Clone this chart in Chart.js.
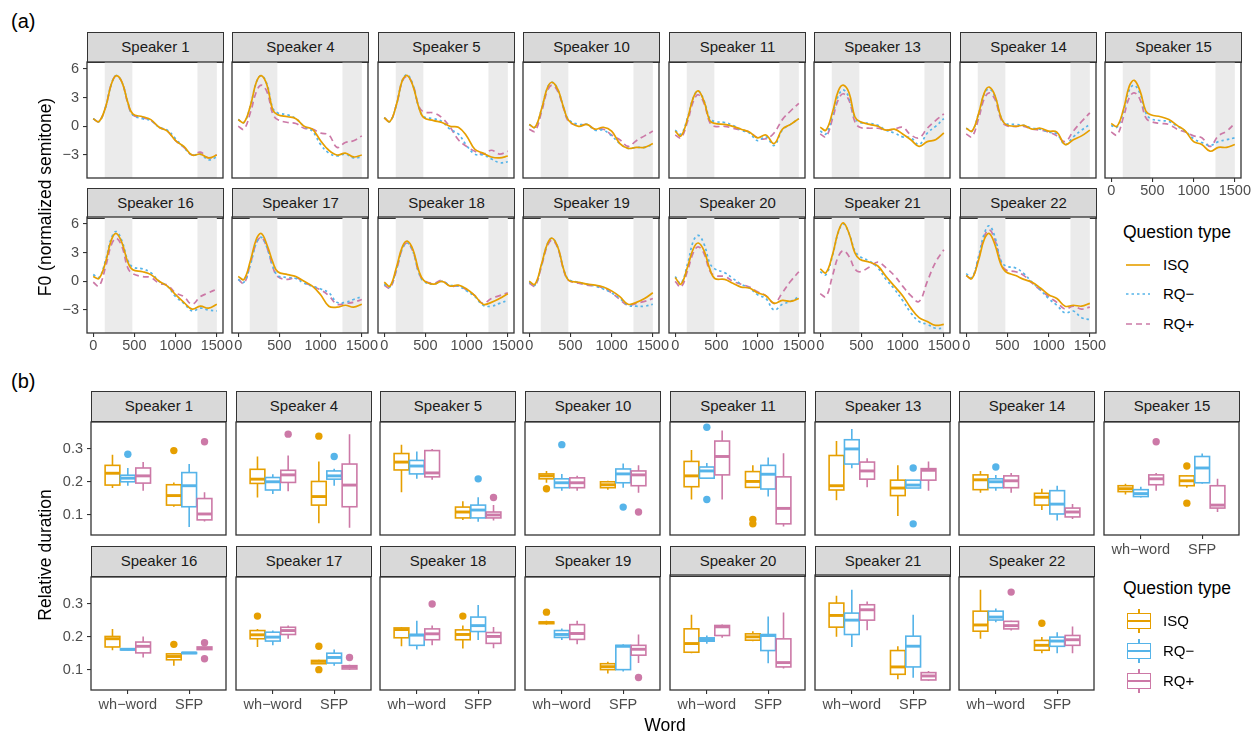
<!DOCTYPE html>
<html>
<head>
<meta charset="utf-8">
<script src="https://cdn.jsdelivr.net/npm/chart.js@4.4.1/dist/chart.umd.min.js"></script>
<style>
  body { margin: 0; background: #fff; font-family: "Liberation Sans", Arial, sans-serif; }
  #fig { position: relative; width: 1252px; height: 734px; overflow: hidden; background: #fff; }
  .strip { position: absolute; background: #D9D9D9; border: 1.3px solid #333; box-sizing: border-box;
           text-align: center; color: #1A1A1A; font-size: 15px; }
  .txt { position: absolute; white-space: nowrap; color: #000; }
  canvas { position: absolute; }
</style>
</head>
<body>
<div id="fig"></div>
<script>
const speakers = ['Speaker 1', 'Speaker 4', 'Speaker 5', 'Speaker 10', 'Speaker 11', 'Speaker 13', 'Speaker 14', 'Speaker 15',
  'Speaker 16', 'Speaker 17', 'Speaker 18', 'Speaker 19', 'Speaker 20', 'Speaker 21', 'Speaker 22'];
const qTypes = ['ISQ', 'RQ−', 'RQ+'];
const qColors = ['#E69F00', '#56B4E9', '#CC79A7'];
const words = ['wh−word', 'SFP'];

// (a) F0 contours, ms
const timePoints = [0, 70, 150, 220, 280, 350, 420, 480, 600, 700, 800, 900, 1000, 1100, 1200, 1300, 1400, 1500];
const shadeRanges = [[140, 475], [1265, 1500]];
const f0Ticks = [-3, 0, 3, 6];
const timeTicks = [0, 500, 1000, 1500];

const f0ISQ = [
  [0.8, 0.5, 2.0, 4.4, 5.3, 4.6, 2.5, 1.3, 1.0, 0.7, -0.1, -0.5, -1.5, -2.1, -3.0, -2.9, -3.3, -3.0],
  [0.7, 0.4, 2.2, 4.6, 5.3, 4.3, 1.7, 1.2, 1.0, 0.8, 0.0, -0.3, -1.5, -2.5, -3.0, -2.8, -3.2, -3.0],
  [0.9, 0.5, 2.3, 4.8, 5.3, 4.2, 2.0, 0.9, 0.6, 0.4, 0.0, -0.1, -1.0, -2.4, -2.8, -3.2, -3.3, -3.1],
  [0.2, -0.1, 1.8, 4.0, 4.6, 3.8, 1.9, 0.6, 0.0, 0.2, -0.3, -0.1, -0.5, -1.8, -2.3, -2.2, -2.2, -1.8],
  [-0.5, -1.0, 0.8, 3.0, 3.7, 2.6, 0.6, 0.3, 0.2, 0.0, -0.3, -0.6, -1.2, -0.9, -1.8, -0.3, 0.2, 0.8],
  [-0.1, -0.4, 1.5, 3.7, 4.3, 3.5, 1.0, 0.5, 0.2, 0.0, -0.4, -0.3, -0.8, -1.4, -2.1, -1.6, -1.4, -0.7],
  [-0.2, -0.5, 1.3, 3.5, 4.1, 3.2, 1.0, 0.2, 0.0, 0.1, -0.3, -0.2, -0.5, -0.6, -1.9, -1.4, -1.0, -0.4],
  [0.3, 0.0, 1.8, 4.2, 4.8, 3.7, 1.6, 1.2, 1.0, 0.7, 0.1, -0.5, -1.6, -1.9, -2.6, -2.2, -2.2, -1.9],
  [0.5, 0.3, 2.0, 4.3, 5.0, 4.0, 2.0, 1.2, 1.0, 0.7, 0.0, -0.5, -1.4, -2.2, -2.9, -2.6, -2.8, -2.4],
  [0.5, 0.2, 2.2, 4.4, 5.0, 3.8, 2.0, 1.0, 0.7, 0.5, 0.0, -0.5, -1.4, -2.6, -2.7, -2.5, -2.7, -2.4],
  [-0.1, -0.5, 1.5, 3.6, 4.2, 3.3, 1.1, 0.1, -0.3, 0.0, -0.5, -0.4, -0.8, -1.5, -2.4, -2.2, -1.8, -1.3],
  [0.0, -0.3, 1.8, 3.9, 4.5, 3.5, 1.2, 0.1, -0.1, -0.3, -0.4, -0.6, -1.0, -1.6, -2.4, -2.2, -1.8, -1.2],
  [0.4, -0.3, 1.5, 3.4, 4.0, 3.2, 1.3, 0.3, 0.2, -0.2, -0.6, -0.7, -1.2, -1.5, -2.3, -2.0, -2.1, -1.8],
  [1.3, 0.9, 2.8, 5.2, 6.1, 5.0, 3.0, 2.3, 2.0, 1.6, 0.5, -0.5, -1.5, -2.8, -3.8, -4.2, -4.6, -4.5],
  [0.6, 0.3, 2.2, 4.4, 5.0, 3.8, 1.8, 1.0, 0.6, 0.2, -0.1, -0.7, -1.4, -1.8, -2.6, -2.5, -2.6, -2.3]
];
const f0RQm = [
  [0.8, 0.5, 2.0, 4.4, 5.3, 4.6, 2.5, 1.2, 0.8, 0.6, -0.1, -0.4, -1.3, -2.2, -3.0, -2.9, -3.5, -3.2],
  [0.7, 0.4, 2.2, 4.6, 5.3, 4.4, 1.9, 1.4, 1.2, 0.8, 0.0, -0.5, -1.9, -2.8, -3.1, -2.9, -3.3, -3.2],
  [0.9, 0.5, 2.3, 4.8, 5.4, 4.3, 2.0, 1.0, 0.8, 0.5, -0.3, -0.8, -2.0, -2.9, -3.0, -3.4, -3.8, -3.7],
  [0.2, -0.1, 1.8, 4.0, 4.6, 3.8, 1.9, 0.7, 0.2, 0.2, -0.4, -0.4, -1.0, -1.8, -2.3, -2.2, -2.2, -1.9],
  [-0.4, -0.8, 0.9, 3.0, 3.7, 2.7, 0.8, 0.5, 0.4, 0.1, -0.4, -0.7, -1.5, -1.1, -2.0, -0.4, 0.2, 0.8],
  [-0.5, -0.8, 1.2, 3.2, 3.8, 3.0, 0.9, 0.4, 0.3, 0.1, -0.4, -0.7, -1.1, -1.2, -1.9, -0.7, 0.0, 0.8],
  [-0.2, -0.5, 1.3, 3.4, 3.9, 3.1, 1.0, 0.3, 0.2, 0.1, -0.2, -0.3, -0.6, -0.8, -1.9, -1.1, -0.4, 0.2],
  [0.1, -0.1, 1.6, 3.8, 4.3, 3.4, 1.4, 0.8, 0.6, 0.5, 0.0, -0.5, -1.3, -1.7, -2.0, -1.6, -1.4, -1.2],
  [0.7, 0.4, 2.2, 4.5, 5.2, 4.2, 2.2, 1.5, 1.3, 0.9, 0.0, -0.5, -1.6, -2.3, -3.1, -2.8, -3.0, -3.1],
  [0.2, -0.1, 1.8, 4.0, 4.6, 3.5, 1.6, 0.6, 0.4, 0.3, -0.2, -0.5, -0.8, -1.2, -2.2, -2.2, -1.9, -1.6],
  [-0.3, -0.6, 1.3, 3.4, 4.0, 3.1, 0.9, 0.0, -0.3, 0.0, -0.4, -0.5, -1.0, -1.6, -2.5, -2.6, -2.3, -2.0],
  [-0.1, -0.4, 1.7, 3.9, 4.5, 3.5, 1.2, 0.2, -0.1, -0.3, -0.5, -0.8, -1.2, -1.8, -2.5, -2.6, -2.6, -2.4],
  [0.5, -0.2, 1.8, 4.2, 4.8, 3.9, 1.9, 1.3, 0.9, 0.3, -0.3, -0.7, -1.4, -1.8, -3.0, -2.4, -2.1, -1.6],
  [1.0, 0.7, 2.7, 5.1, 6.0, 5.0, 3.2, 2.6, 2.1, 1.4, 0.2, -0.8, -2.0, -3.3, -4.2, -4.5, -4.9, -4.9],
  [0.8, 0.4, 2.6, 5.0, 5.8, 4.6, 2.2, 1.6, 1.4, 0.8, -0.1, -0.9, -1.8, -2.5, -3.3, -3.1, -3.8, -4.0]
];
const f0RQp = [
  [0.8, 0.5, 2.0, 4.4, 5.3, 4.6, 2.4, 1.2, 0.9, 0.6, -0.1, -0.5, -1.5, -2.2, -3.0, -2.7, -3.3, -3.0],
  [0.0, -0.3, 1.5, 3.6, 4.3, 3.6, 1.3, 0.7, 0.4, 0.3, -0.2, -0.3, -0.7, -0.9, -2.2, -1.7, -1.5, -1.0],
  [0.9, 0.5, 2.3, 4.7, 5.2, 4.3, 2.1, 1.5, 1.4, 0.9, -0.1, -1.4, -2.1, -2.6, -2.9, -2.5, -2.9, -2.6],
  [-0.3, -0.5, 1.5, 3.7, 4.3, 3.6, 1.8, 0.5, 0.1, 0.2, -0.3, -0.3, -0.9, -1.4, -2.1, -1.5, -1.0, -0.5],
  [-0.9, -1.2, 0.5, 2.6, 3.3, 2.4, 0.4, 0.0, 0.0, -0.2, -0.4, -0.6, -1.2, -1.3, -0.7, 0.7, 1.6, 2.4],
  [-0.8, -1.1, 0.8, 2.8, 3.4, 2.7, 0.5, -0.1, -0.2, -0.2, -0.4, -0.3, -0.1, -0.9, -1.2, -0.2, 0.6, 1.3],
  [-0.8, -1.1, 0.8, 2.9, 3.5, 2.8, 0.8, 0.1, 0.0, 0.0, -0.3, -0.4, -0.6, -1.0, -1.6, -0.5, 0.5, 1.4],
  [-0.6, -0.9, 1.0, 3.0, 3.5, 2.8, 0.9, 0.5, 0.3, 0.2, -0.3, -0.6, -1.0, -1.2, -2.1, -1.0, -0.5, 0.3],
  [-0.1, -0.5, 1.5, 3.8, 4.5, 3.6, 1.4, 0.8, 0.5, 0.4, -0.2, -0.4, -1.2, -1.6, -2.4, -1.6, -1.2, -0.8],
  [0.2, -0.2, 1.9, 4.0, 4.6, 3.5, 1.5, 0.5, 0.2, 0.4, -0.1, -0.5, -0.9, -1.5, -2.4, -2.3, -2.2, -1.9],
  [-0.4, -0.7, 1.2, 3.4, 4.0, 3.1, 0.9, 0.1, -0.2, 0.1, -0.5, -0.5, -0.9, -1.5, -2.3, -1.8, -1.5, -1.2],
  [-0.2, -0.5, 1.6, 3.7, 4.3, 3.4, 1.1, 0.1, -0.2, -0.4, -0.5, -0.7, -1.2, -1.9, -2.5, -2.3, -2.1, -1.8],
  [0.0, -0.6, 1.1, 3.0, 3.6, 2.9, 1.1, 0.6, 0.5, 0.0, -0.3, -0.6, -1.1, -1.5, -2.3, -1.2, 0.0, 1.0],
  [-1.3, -1.6, 0.6, 2.6, 3.2, 2.6, 1.3, 1.0, 1.5, 2.0, 1.4, 0.6, -0.5, -1.5, -2.1, 0.0, 2.0, 3.3],
  [0.6, 0.3, 2.4, 4.7, 5.4, 4.3, 2.0, 1.2, 1.0, 0.6, -0.2, -0.9, -1.6, -2.2, -2.9, -2.6, -2.9, -2.7]
];

// (b) relative duration boxplots: [lower whisker, q1, median, q3, upper whisker]
const durTicks = [0.1, 0.2, 0.3];
const whISQ = [
  [0.181, 0.19, 0.226, 0.25, 0.282], [0.152, 0.195, 0.208, 0.238, 0.277], [0.168, 0.236, 0.26, 0.286, 0.313],
  [0.197, 0.209, 0.218, 0.224, 0.233], [0.146, 0.185, 0.218, 0.262, 0.297], [0.144, 0.175, 0.188, 0.28, 0.324],
  [0.167, 0.176, 0.206, 0.221, 0.233], [0.161, 0.17, 0.179, 0.188, 0.194], [0.159, 0.169, 0.194, 0.201, 0.224],
  [0.169, 0.194, 0.206, 0.219, 0.224], [0.171, 0.197, 0.222, 0.227, 0.23], [0.237, 0.24, 0.243, 0.245, 0.249],
  [0.148, 0.151, 0.177, 0.221, 0.263], [0.197, 0.226, 0.261, 0.298, 0.32], [0.194, 0.217, 0.236, 0.278, 0.343]
];
const whRQm = [
  [0.188, 0.2, 0.211, 0.22, 0.242], [0.163, 0.175, 0.2, 0.213, 0.223], [0.209, 0.224, 0.248, 0.265, 0.292],
  [0.173, 0.182, 0.197, 0.209, 0.224], [0.21, 0.211, 0.233, 0.245, 0.257], [0.241, 0.254, 0.3, 0.328, 0.361],
  [0.173, 0.182, 0.2, 0.209, 0.221], [0.152, 0.155, 0.164, 0.176, 0.185], [0.159, 0.16, 0.162, 0.163, 0.164],
  [0.174, 0.187, 0.199, 0.214, 0.219], [0.161, 0.174, 0.205, 0.207, 0.249], [0.19, 0.198, 0.207, 0.219, 0.225],
  [0.176, 0.184, 0.189, 0.194, 0.201], [0.167, 0.204, 0.247, 0.268, 0.338], [0.244, 0.251, 0.26, 0.278, 0.286]
];
const whRQp = [
  [0.173, 0.196, 0.218, 0.242, 0.26], [0.171, 0.198, 0.221, 0.235, 0.28], [0.206, 0.215, 0.227, 0.295, 0.3],
  [0.173, 0.182, 0.197, 0.212, 0.218], [0.146, 0.221, 0.277, 0.324, 0.356], [0.183, 0.208, 0.233, 0.26, 0.272],
  [0.167, 0.182, 0.203, 0.218, 0.227], [0.173, 0.191, 0.209, 0.221, 0.227], [0.137, 0.151, 0.171, 0.184, 0.201],
  [0.194, 0.207, 0.219, 0.229, 0.234], [0.174, 0.191, 0.209, 0.224, 0.234], [0.177, 0.192, 0.21, 0.237, 0.249],
  [0.194, 0.201, 0.227, 0.231, 0.234], [0.217, 0.247, 0.278, 0.293, 0.303], [0.219, 0.224, 0.234, 0.247, 0.249]
];
const sfpISQ = [
  [0.124, 0.129, 0.158, 0.191, 0.198], [0.074, 0.129, 0.155, 0.201, 0.262], [0.084, 0.09, 0.108, 0.123, 0.141],
  [0.176, 0.182, 0.191, 0.2, 0.203], [0.182, 0.183, 0.201, 0.231, 0.25], [0.096, 0.158, 0.181, 0.205, 0.25],
  [0.114, 0.129, 0.153, 0.165, 0.179], [0.182, 0.188, 0.203, 0.218, 0.221], [0.112, 0.13, 0.14, 0.148, 0.15],
  [0.118, 0.118, 0.125, 0.128, 0.13], [0.164, 0.191, 0.207, 0.221, 0.234], [0.088, 0.1, 0.109, 0.118, 0.124],
  [0.184, 0.187, 0.197, 0.206, 0.214], [0.07, 0.085, 0.107, 0.156, 0.169], [0.15, 0.159, 0.174, 0.189, 0.199]
];
const sfpRQm = [
  [0.062, 0.124, 0.188, 0.228, 0.254], [0.188, 0.208, 0.218, 0.233, 0.24], [0.078, 0.09, 0.114, 0.129, 0.153],
  [0.182, 0.197, 0.224, 0.239, 0.256], [0.155, 0.178, 0.223, 0.25, 0.274], [0.181, 0.181, 0.19, 0.205, 0.205],
  [0.082, 0.102, 0.132, 0.173, 0.188], [0.194, 0.197, 0.242, 0.277, 0.286], [0.148, 0.149, 0.151, 0.152, 0.153],
  [0.112, 0.12, 0.137, 0.15, 0.161], [0.19, 0.216, 0.234, 0.26, 0.297], [0.094, 0.1, 0.171, 0.174, 0.177],
  [0.118, 0.156, 0.201, 0.204, 0.258], [0.075, 0.107, 0.169, 0.199, 0.263], [0.15, 0.171, 0.187, 0.199, 0.214]
];
const sfpRQp = [
  [0.079, 0.084, 0.102, 0.149, 0.168], [0.06, 0.124, 0.19, 0.254, 0.345], [0.082, 0.09, 0.099, 0.108, 0.129],
  [0.167, 0.188, 0.221, 0.233, 0.25], [0.064, 0.072, 0.119, 0.215, 0.287], [0.173, 0.205, 0.235, 0.24, 0.262],
  [0.087, 0.093, 0.108, 0.12, 0.132], [0.108, 0.12, 0.129, 0.188, 0.209], [0.16, 0.161, 0.165, 0.169, 0.17],
  [0.1, 0.102, 0.108, 0.112, 0.115], [0.165, 0.18, 0.201, 0.213, 0.23], [0.12, 0.144, 0.162, 0.174, 0.207],
  [0.102, 0.107, 0.12, 0.191, 0.27], [0.066, 0.068, 0.08, 0.09, 0.095], [0.15, 0.174, 0.191, 0.204, 0.231]
];
// [speaker index, word index, question type index, value]
const durOutliers = [
  [0, 0, 1, 0.284], [0, 1, 0, 0.295], [0, 1, 2, 0.322],
  [1, 0, 2, 0.345], [1, 1, 0, 0.339], [1, 1, 1, 0.277],
  [2, 1, 1, 0.209], [2, 1, 2, 0.152],
  [3, 0, 0, 0.179], [3, 0, 1, 0.313], [3, 1, 1, 0.123], [3, 1, 2, 0.108],
  [4, 0, 1, 0.366], [4, 0, 1, 0.146], [4, 1, 0, 0.085], [4, 1, 0, 0.072],
  [5, 1, 1, 0.242], [5, 1, 1, 0.072],
  [6, 0, 1, 0.245],
  [7, 0, 2, 0.322], [7, 1, 0, 0.248], [7, 1, 0, 0.135],
  [8, 1, 0, 0.177], [8, 1, 2, 0.182], [8, 1, 2, 0.133],
  [9, 0, 0, 0.263], [9, 1, 0, 0.171], [9, 1, 0, 0.1], [9, 1, 2, 0.137],
  [10, 0, 2, 0.3], [10, 1, 0, 0.263],
  [11, 0, 0, 0.275], [11, 1, 2, 0.076],
  [14, 0, 2, 0.336], [14, 1, 0, 0.241]
];

const f0Series = [f0ISQ, f0RQm, f0RQp];
const whSeries = [whISQ, whRQm, whRQp];
const sfpSeries = [sfpISQ, sfpRQm, sfpRQp];
const dashes = [[], [2.5, 3], [6, 4]];
const dodge = [-0.25, 0, 0.25];
const BOX_W = 0.24;

const fig = document.getElementById('fig');
const ML = 34, MR = 18, MT = 2, MB = 26;

function addText(text, css) {
  const d = document.createElement('div');
  d.className = 'txt';
  d.textContent = text;
  Object.assign(d.style, css);
  fig.appendChild(d);
  return d;
}

function addStrip(text, left, top, w) {
  const d = document.createElement('div');
  d.className = 'strip';
  d.textContent = text;
  Object.assign(d.style, { left: left + 'px', top: top + 'px', width: (w + 1) + 'px', height: '31px', lineHeight: '28px' });
  fig.appendChild(d);
}

const shadePlugin = {
  id: 'shade',
  beforeDatasetsDraw(chart) {
    const { ctx, chartArea: a, scales: { x } } = chart;
    ctx.save();
    ctx.fillStyle = '#EBEBEB';
    shadeRanges.forEach(([s, e]) => {
      const x0 = x.getPixelForValue(s), x1 = x.getPixelForValue(e);
      ctx.fillRect(x0, a.top, x1 - x0, a.bottom - a.top);
    });
    ctx.restore();
  }
};

const borderPlugin = {
  id: 'panelBorder',
  afterDraw(chart) {
    const { ctx, chartArea: a } = chart;
    ctx.save();
    ctx.strokeStyle = '#333';
    ctx.lineWidth = 1.3;
    ctx.strokeRect(a.left, a.top, a.right - a.left, a.bottom - a.top);
    ctx.restore();
  }
};

const boxPlugin = {
  id: 'boxes',
  beforeDatasetsDraw(chart) {
    const { ctx, scales: { x, y } } = chart;
    ctx.save();
    chart.data.datasets.forEach(ds => {
      if (!ds.isBox) return;
      ds.data.forEach(p => {
        const [lo, q1, med, q3, hi] = p.stats;
        const xc = x.getPixelForValue(p.x);
        const xl = x.getPixelForValue(p.x - BOX_W / 2), xr = x.getPixelForValue(p.x + BOX_W / 2);
        const yt = y.getPixelForValue(q3), yb = y.getPixelForValue(q1);
        ctx.strokeStyle = ds.borderColor;
        ctx.lineWidth = 1.6;
        ctx.beginPath();
        ctx.moveTo(xc, y.getPixelForValue(hi)); ctx.lineTo(xc, yt);
        ctx.moveTo(xc, yb); ctx.lineTo(xc, y.getPixelForValue(lo));
        ctx.stroke();
        ctx.fillStyle = '#fff';
        ctx.fillRect(xl, yt, xr - xl, yb - yt);
        ctx.strokeRect(xl, yt, xr - xl, yb - yt);
        ctx.lineWidth = 2.9;
        ctx.beginPath();
        const ym = y.getPixelForValue(med);
        ctx.moveTo(xl, ym); ctx.lineTo(xr, ym);
        ctx.stroke();
      });
    });
    ctx.restore();
  }
};

function scaleOpts(show, isX, pad, extra) {
  return Object.assign({
    type: 'linear',
    display: show,
    border: { display: false },
    grid: { drawOnChartArea: false, color: '#333', lineWidth: 1.1, tickLength: 4 },
    ticks: { color: '#4D4D4D', font: { size: 14.5, family: '"Liberation Sans", Arial, sans-serif', lineHeight: 1 },
             padding: pad, autoSkip: false, maxRotation: 0 },
    afterFit(s) {
      if (!s.options.display) return;
      if (isX) { s.height = MB; s.paddingLeft = 0; s.paddingRight = 0; }
      else { s.width = ML; s.paddingTop = 0; s.paddingBottom = 0; }
    }
  }, extra);
}

function makeCanvas(left, top, w, h) {
  const cv = document.createElement('canvas');
  cv.width = w + ML + MR;
  cv.height = h + MT + MB;
  cv.style.left = (left - ML) + 'px';
  cv.style.top = (top - MT) + 'px';
  fig.appendChild(cv);
  return cv;
}

function baseOptions(showX, showY) {
  return {
    responsive: false, animation: false, events: [], devicePixelRatio: 1,
    layout: { padding: { left: showY ? 0 : ML, right: MR, top: MT, bottom: showX ? 0 : MB } },
    plugins: { legend: { display: false }, tooltip: { enabled: false } }
  };
}

// ----- (a) -----
const A = { left0: 87, pitch: 145.45, w: 136, stripTops: [32, 188], tops: [62, 217], h: 116 };
speakers.forEach((name, i) => {
  const row = i < 8 ? 0 : 1, k = i < 8 ? i : i - 8;
  const left = Math.round(A.left0 + k * A.pitch), top = A.tops[row];
  addStrip(name, left, A.stripTops[row], A.w);
  const showY = k === 0, showX = row === 1 || k === 7;
  const opts = baseOptions(showX, showY);
  opts.scales = {
    x: scaleOpts(showX, true, 2, {
      min: -75, max: 1575,
      afterBuildTicks(s) { s.ticks = timeTicks.map(v => ({ value: v })); }
    }),
    y: scaleOpts(showY, false, 4, {
      min: -5.4, max: 6.72,
      afterBuildTicks(s) { s.ticks = f0Ticks.map(v => ({ value: v })); }
    })
  };
  opts.scales.x.ticks.callback = v => String(v);
  opts.scales.y.ticks.callback = v => v < 0 ? '−' + Math.abs(v) : String(v);
  new Chart(makeCanvas(left, top, A.w, A.h), {
    type: 'line',
    data: {
      datasets: qTypes.map((q, j) => ({
        label: q,
        data: timePoints.map((t, n) => ({ x: t, y: f0Series[j][i][n] })),
        borderColor: qColors[j], borderWidth: 1.7, borderDash: dashes[j],
        pointRadius: 0, tension: 0.4, fill: false
      }))
    },
    options: opts,
    plugins: [shadePlugin, borderPlugin]
  });
});

// ----- (b) -----
const B = { left0: 91, pitch: 144.7, w: 135, stripTops: [391, 546], tops: [420, 575], h: 115 };
speakers.forEach((name, i) => {
  const row = i < 8 ? 0 : 1, k = i < 8 ? i : i - 8;
  const left = Math.round(B.left0 + k * B.pitch), top = B.tops[row];
  addStrip(name, left, B.stripTops[row], B.w);
  const showY = k === 0, showX = row === 1 || k === 7;
  const opts = baseOptions(showX, showY);
  opts.scales = {
    x: scaleOpts(showX, true, 4, {
      min: 0.4, max: 2.6,
      afterBuildTicks(s) { s.ticks = [1, 2].map(v => ({ value: v })); }
    }),
    y: scaleOpts(showY, false, 4, {
      min: 0.038, max: 0.382,
      afterBuildTicks(s) { s.ticks = durTicks.map(v => ({ value: v })); }
    })
  };
  opts.scales.x.ticks.callback = v => words[v - 1];
  opts.scales.y.ticks.callback = v => v.toFixed(1);
  const boxSets = qTypes.map((q, j) => ({
    label: q, isBox: true, borderColor: qColors[j], pointRadius: 0,
    data: [whSeries[j][i], sfpSeries[j][i]].map((st, w) => ({ x: w + 1 + dodge[j], y: st[2], stats: st }))
  }));
  const outSets = qTypes.map((q, j) => ({
    label: q + ' outliers',
    data: durOutliers.filter(o => o[0] === i && o[2] === j).map(o => ({ x: o[1] + 1 + dodge[j], y: o[3] })),
    pointRadius: 3.7, backgroundColor: qColors[j], borderWidth: 0
  }));
  new Chart(makeCanvas(left, top, B.w, B.h), {
    type: 'scatter',
    data: { datasets: boxSets.concat(outSets) },
    options: opts,
    plugins: [boxPlugin, borderPlugin]
  });
});

// ----- labels and legends -----
addText('(a)', { left: '11px', top: '9px', fontSize: '20px', lineHeight: '24px' });
addText('(b)', { left: '11px', top: '369px', fontSize: '20px', lineHeight: '24px' });
addText('F0 (normalized semitone)', { left: '45px', top: '197px', fontSize: '17.5px', transform: 'translate(-50%,-50%) rotate(-90deg)' });
addText('Relative duration', { left: '45px', top: '555px', fontSize: '17.5px', transform: 'translate(-50%,-50%) rotate(-90deg)' });
addText('Word', { left: '665px', top: '725px', fontSize: '17.5px', transform: 'translate(-50%,-50%)' });

function legendA(top) {
  addText('Question type', { left: '1123px', top: (top - 11) + 'px', fontSize: '17.5px', lineHeight: '22px' });
  qTypes.forEach((q, j) => {
    const cy = top + 32.5 + j * 29.7;
    const svg = document.createElementNS('http://www.w3.org/2000/svg', 'svg');
    svg.setAttribute('width', '26'); svg.setAttribute('height', '6');
    svg.style.position = 'absolute'; svg.style.left = '1125px'; svg.style.top = (cy - 3) + 'px';
    const ln = document.createElementNS('http://www.w3.org/2000/svg', 'line');
    ln.setAttribute('x1', '1'); ln.setAttribute('x2', '25'); ln.setAttribute('y1', '3'); ln.setAttribute('y2', '3');
    ln.setAttribute('stroke', qColors[j]); ln.setAttribute('stroke-width', '1.6');
    if (dashes[j].length) ln.setAttribute('stroke-dasharray', dashes[j].join(' '));
    svg.appendChild(ln);
    fig.appendChild(svg);
    addText(q, { left: '1163px', top: (cy - 9) + 'px', fontSize: '15px', lineHeight: '18px' });
  });
}

function legendB(top) {
  addText('Question type', { left: '1123px', top: (top - 11) + 'px', fontSize: '17.5px', lineHeight: '22px' });
  qTypes.forEach((q, j) => {
    const cy = top + 32.5 + j * 30.2;
    const wrap = document.createElement('div');
    Object.assign(wrap.style, { position: 'absolute', left: '1127px', top: (cy - 12) + 'px', width: '24px', height: '24px' });
    const whisk = document.createElement('div');
    Object.assign(whisk.style, { position: 'absolute', left: '11px', top: '0px', width: '1.5px', height: '24px', background: qColors[j] });
    const box = document.createElement('div');
    Object.assign(box.style, { position: 'absolute', left: '0px', top: '4px', width: '24px', height: '16px', boxSizing: 'border-box',
      border: '1.5px solid ' + qColors[j], background: '#fff' });
    const med = document.createElement('div');
    Object.assign(med.style, { position: 'absolute', left: '0px', top: '11px', width: '24px', height: '2px', background: qColors[j] });
    wrap.append(whisk, box, med);
    fig.appendChild(wrap);
    addText(q, { left: '1163px', top: (cy - 9) + 'px', fontSize: '15px', lineHeight: '18px' });
  });
}

legendA(232);
legendB(588);
</script>
</body>
</html>
